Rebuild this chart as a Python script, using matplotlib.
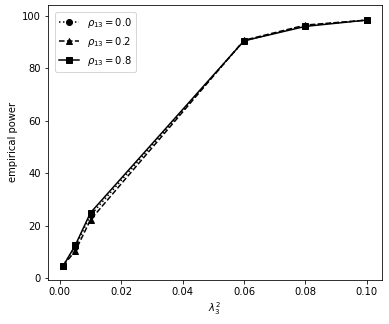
import matplotlib
matplotlib.use('Agg')
import matplotlib.pyplot as plt

lam = [0.001, 0.005, 0.01, 0.06, 0.08, 0.1]
power_00 = [4.8, 12.0, 24.0, 90.5, 96.3, 98.4]
power_02 = [4.8, 10.3, 22.3, 90.7, 96.5, 98.4]
power_08 = [4.5, 12.5, 25.0, 90.5, 96.0, 98.4]

fig, ax = plt.subplots(figsize=(389 / 72, 324 / 72), dpi=72)
ax.plot(lam, power_00, 'k:o', label=r'$\rho_{13} = 0.0$')
ax.plot(lam, power_02, 'k--^', label=r'$\rho_{13} = 0.2$')
ax.plot(lam, power_08, 'k-s', label=r'$\rho_{13} = 0.8$')
ax.set_ylim(-0.5, 104.2)
ax.set_xlabel(r'$\lambda_3^2$')
ax.set_ylabel('empirical power')
ax.legend(loc='upper left', borderaxespad=0.7)
fig.subplots_adjust(left=0.1226, right=0.982, bottom=0.137, top=0.985)
fig.savefig('out.png', dpi=72)
